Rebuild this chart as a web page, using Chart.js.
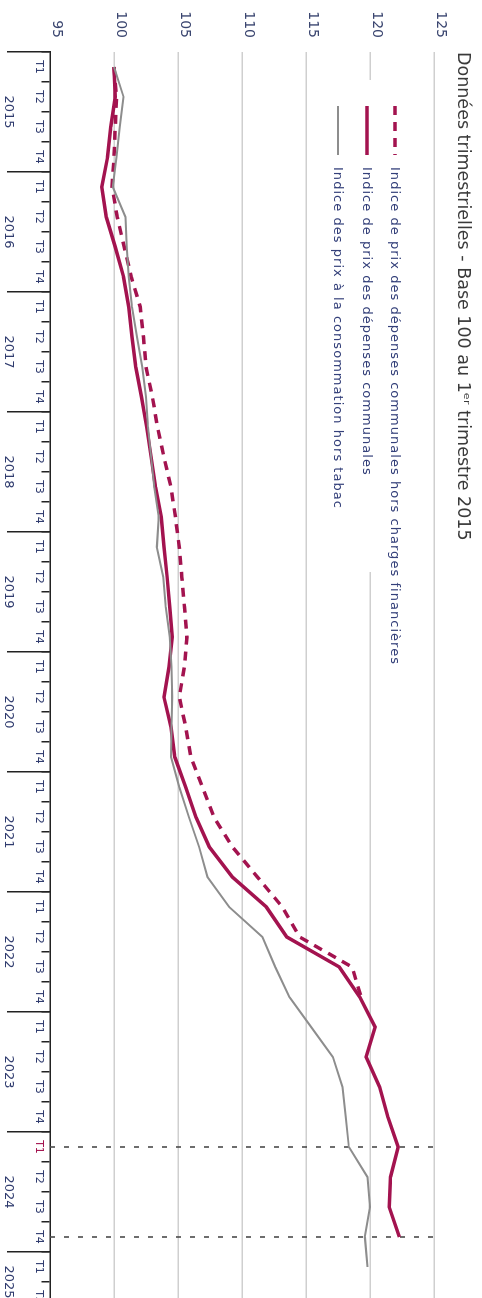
<!DOCTYPE html>
<html>
<head>
<meta charset="utf-8">
<script src="https://cdn.jsdelivr.net/npm/chart.js@4.4.1/dist/chart.umd.min.js"></script>
<style>
  html, body { margin: 0; padding: 0; background: #fff; overflow: hidden; width: 482px; height: 1298px; }
  /* the chart is drawn landscape, then turned a quarter turn clockwise */
  #wrap { position: absolute; left: 0; top: 0; width: 1320px; height: 482px;
          transform-origin: 0 0; transform: translate(482px, 0) rotate(90deg); }
</style>
</head>
<body>
<div id="wrap"><canvas id="graph" width="1320" height="482"></canvas></div>
<script>
const years = ['2015', '2016', '2017', '2018', '2019', '2020', '2021', '2022', '2023', '2024', '2025'];
const quarters = ['T1', 'T2', 'T3', 'T4'];
const quartersInYear = [4, 4, 4, 4, 4, 4, 4, 4, 4, 4, 2];   // axis stops at 2025 T2

// Indice de prix des dépenses communales hors charges financières (2015 T1 -> 2022 T4)
const horsCharges = [100.0, 100.2, 100.1, 100.0, 99.85, 100.25, 100.8, 101.35,
                     102.05, 102.3, 102.5, 103.0, 103.4, 103.9, 104.45, 104.8,
                     105.1, 105.3, 105.5, 105.7, 105.5, 105.1, 105.6, 106.0,
                     106.9, 107.8, 109.25, 111.2, 113.15, 114.5, 118.6, 119.3];
// Indice de prix des dépenses communales (2015 T1 -> 2024 T4)
const depenses = [100.0, 100.1, 99.75, 99.5, 99.05, 99.4, 100.1, 100.75,
                  101.15, 101.4, 101.7, 102.15, 102.55, 102.9, 103.25, 103.7,
                  103.9, 104.15, 104.35, 104.55, 104.3, 103.9, 104.45, 104.75,
                  105.6, 106.4, 107.45, 109.25, 111.9, 113.5, 117.6, 119.2,
                  120.4, 119.7, 120.75, 121.4, 122.2, 121.6, 121.5, 122.3];
// Indice des prix à la consommation hors tabac (2015 T1 -> 2025 T1)
const ipc = [100.0, 100.75, 100.45, 100.2, 99.9, 100.9, 101.0, 101.15,
             101.4, 101.8, 102.2, 102.5, 102.65, 102.9, 103.15, 103.5,
             103.35, 103.85, 104.05, 104.35, 104.5, 104.55, 104.5, 104.45,
             105.1, 105.85, 106.65, 107.3, 109.0, 111.6, 112.6, 113.7,
             115.4, 117.1, 117.85, 118.1, 118.35, 119.8, 120.0, 119.6, 119.8];

// quarters marked with a dotted line (2024 T1 and 2024 T4)
const markerIdx = [36, 39];

// quarter labels, and year boundaries / centres in quarter units
let labels = [];
let yearEdges = [-0.5];
let yearMids = [];
years.forEach(function (y, k) {
  const start = labels.length;
  for (let q = 0; q < quartersInYear[k]; q++) labels.push(quarters[q]);
  yearMids.push((start + labels.length - 1) / 2);
  yearEdges.push(labels.length - 0.5);
});

const crimson = '#a3134f';
const labelBlue = '#2f3b6e';

const extras = {
  id: 'extras',
  beforeDatasetsDraw(chart) {
    const ctx = chart.ctx, area = chart.chartArea, x = chart.scales.x;
    ctx.save();
    ctx.strokeStyle = '#4a4a4a';
    ctx.lineWidth = 1.6;
    ctx.setLineDash([5, 9]);
    markerIdx.forEach(function (i) {
      const px = x.getPixelForValue(i);
      ctx.beginPath();
      ctx.moveTo(px, area.bottom);
      ctx.lineTo(px, area.top - 3);
      ctx.stroke();
    });
    ctx.restore();
  },
  afterDraw(chart) {
    // legend box sitting inside the plot, top left
    const ctx = chart.ctx, area = chart.chartArea;
    const sets = chart.data.datasets;
    const rows = [87, 115, 144];
    ctx.save();
    ctx.fillStyle = '#fff';
    ctx.fillRect(area.left + 28, 74, 492, 84);
    ctx.font = '13px "DejaVu Sans"';
    const w0 = ctx.measureText(sets[0].label).width;
    const ls = Math.max(0, (498 - w0) / sets[0].label.length);
    sets.forEach(function (ds, k) {
      const y = rows[k];
      ctx.strokeStyle = ds.borderColor;
      ctx.lineWidth = ds.borderWidth;
      ctx.setLineDash(ds.borderDash || []);
      ctx.beginPath();
      ctx.moveTo(area.left + 54, y);
      ctx.lineTo(area.left + 103, y);
      ctx.stroke();
      ctx.setLineDash([]);
      ctx.fillStyle = '#34407a';
      ctx.textBaseline = 'middle';
      ctx.letterSpacing = ls + 'px';
      ctx.fillText(ds.label, area.left + 115, y + 1);
    });
    ctx.restore();
  }
};

new Chart('graph', {
  type: 'line',
  data: {
    labels: labels,
    datasets: [
      { label: 'Indice de prix des dépenses communales hors charges financières',
        data: horsCharges, borderColor: crimson, borderWidth: 3.5, borderDash: [9, 7],
        pointRadius: 0, fill: false, order: 1 },
      { label: 'Indice de prix des dépenses communales',
        data: depenses, borderColor: crimson, borderWidth: 3.5,
        pointRadius: 0, fill: false, order: 2 },
      { label: 'Indice des prix à la consommation hors tabac',
        data: ipc, borderColor: '#8d8d8d', borderWidth: 2,
        pointRadius: 0, fill: false, order: 0 }
    ]
  },
  options: {
    responsive: false,
    animation: false,
    layout: { padding: { left: 0, right: 8, top: 0, bottom: 0 } },
    plugins: {
      legend: { display: false },
      tooltip: { enabled: false },
      title: {
        display: true,
        text: 'Données trimestrielles - Base 100 au 1ᵉʳ trimestre 2015',
        align: 'start',
        fullSize: false,
        color: '#3a3a3a',
        font: { family: 'DejaVu Sans', size: 17.5, weight: 'normal' },
        padding: { top: 9, bottom: 18 }
      }
    },
    scales: {
      x: {
        type: 'category',
        position: { y: 95 },
        offset: true,
        grid: { offset: true, drawOnChartArea: false, tickLength: 8, color: '#222', lineWidth: 1.5 },
        border: { color: '#222', width: 1.5 },
        ticks: {
          autoSkip: false, maxRotation: 0, padding: -3,
          font: { family: 'DejaVu Sans', size: 11 },
          color: function (c) { return c.index === 36 ? crimson : labelBlue; }
        }
      },
      x2: {
        type: 'linear',
        position: 'bottom',
        min: -0.5,
        max: labels.length - 0.5,
        grid: {
          drawOnChartArea: false, tickLength: 43, lineWidth: 1.5,
          color: function (c) { return c.tick && yearEdges.includes(c.tick.value) ? '#222' : 'rgba(0,0,0,0)'; }
        },
        border: { display: false },
        afterBuildTicks: function (s) {
          s.ticks = yearEdges.concat(yearMids).sort(function (a, b) { return a - b; })
            .map(function (v) { return { value: v }; });
        },
        ticks: {
          autoSkip: false, maxRotation: 0, padding: -9,
          font: { family: 'DejaVu Sans', size: 13 },
          color: labelBlue,
          callback: function (v) { const k = yearMids.indexOf(v); return k >= 0 ? years[k] : ''; }
        },
        afterFit: function (s) { s.height = 50; }
      },
      y: {
        min: 95,
        max: 125,
        ticks: {
          stepSize: 5, padding: 14, labelOffset: -7,
          font: { family: 'DejaVu Sans', size: 14 },
          color: '#3b4670'
        },
        grid: {
          drawTicks: false, lineWidth: 1.5,
          color: function (c) { return c.tick && c.tick.value === 95 ? 'rgba(0,0,0,0)' : '#cfcfcf'; }
        },
        border: { display: false },
        afterFit: function (s) { s.width = 52; }
      }
    }
  },
  plugins: [extras]
});
</script>
</body>
</html>
